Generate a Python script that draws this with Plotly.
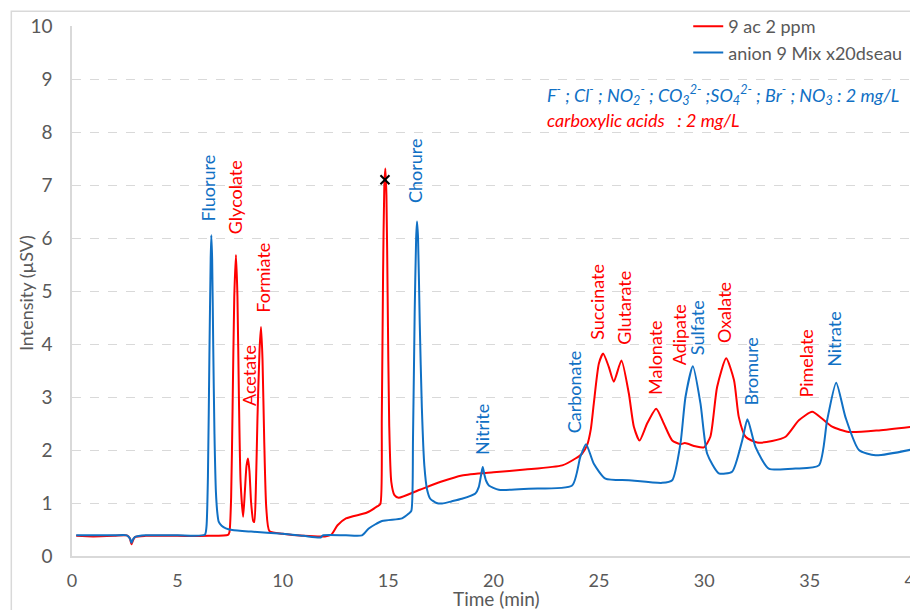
import plotly.graph_objects as go

# chromatogram traces (time in min, intensity in µSV)
red_time = [0.2, 1.0, 2.0, 2.6, 2.75, 2.82, 2.9, 3.0, 3.5, 5.0, 6.5, 7.4, 7.47, 7.55, 7.62, 7.7,
            7.78, 7.85, 7.92, 8.0, 8.12, 8.2, 8.28, 8.35, 8.42, 8.5, 8.6, 8.65, 8.72, 8.8, 8.9,
            8.97, 9.04, 9.12, 9.22, 9.37, 10.0, 11.0, 12.0, 12.3, 12.6, 13.0, 14.0, 14.5, 14.63,
            14.7, 14.76, 14.82, 14.87, 14.92, 14.98, 15.05, 15.15, 15.3, 15.5, 16.5, 17.5, 18.5,
            20.0, 21.5, 23.26, 23.89, 24.2, 24.44, 24.62, 24.76, 25.0, 25.2, 25.47, 25.71, 26.07,
            26.42, 26.66, 26.93, 27.29, 27.72, 28.08, 28.48, 28.87, 29.08, 29.58, 29.98, 30.29,
            30.61, 31.04, 31.41, 31.64, 31.96, 32.51, 33.22, 33.86, 34.49, 35.12, 35.6, 36.07,
            36.86, 38.29, 40.1]
red_signal = [0.38, 0.37, 0.38, 0.39, 0.33, 0.22, 0.30, 0.36, 0.38, 0.38, 0.38, 0.40, 0.45, 1.1,
              2.8, 4.9, 5.68, 4.9, 3.0, 1.4, 0.74, 1.2, 1.7, 1.84, 1.6, 1.0, 0.66, 0.64, 1.2,
              2.6, 3.9, 4.32, 3.7, 2.2, 0.9, 0.47, 0.42, 0.38, 0.37, 0.40, 0.58, 0.71, 0.82,
              0.94, 0.98, 2.6, 5.3, 7.0, 7.31, 6.8, 4.8, 2.5, 1.4, 1.15, 1.10, 1.25, 1.40, 1.52,
              1.58, 1.63, 1.71, 1.84, 1.93, 2.09, 2.4, 2.88, 3.63, 3.82, 3.57, 3.29, 3.69, 3.07,
              2.44, 2.18, 2.50, 2.78, 2.50, 2.18, 2.11, 2.13, 2.07, 2.05, 2.25, 3.19, 3.73, 3.32,
              2.62, 2.25, 2.14, 2.17, 2.25, 2.56, 2.72, 2.59, 2.44, 2.34, 2.37, 2.45]

blue_time = [0.2, 1.0, 2.0, 2.6, 2.75, 2.82, 2.9, 3.0, 3.5, 5.0, 6.3, 6.38, 6.45, 6.52, 6.58,
             6.61, 6.65, 6.7, 6.76, 6.83, 6.9, 6.96, 7.1, 7.3, 7.6, 8.5, 10.0, 11.0, 11.8, 11.9,
             13.0, 13.76, 14.08, 14.71, 15.66, 15.98, 16.1, 16.18, 16.26, 16.33, 16.37, 16.42,
             16.5, 16.6, 16.72, 16.85, 17.0, 17.3, 17.56, 18.0, 18.5, 19.14, 19.3, 19.42, 19.49,
             19.56, 19.65, 19.78, 20.25, 21.67, 23.73, 24.12, 24.39, 24.76, 25.31, 26.42, 28.0,
             28.48, 28.87, 29.11, 29.46, 29.82, 30.14, 30.69, 31.32, 31.8, 32.05, 32.43, 33.06,
             34.33, 35.44, 35.83, 36.26, 36.7, 37.34, 38.13, 40.1]
blue_signal = [0.39, 0.39, 0.39, 0.39, 0.33, 0.25, 0.32, 0.36, 0.39, 0.39, 0.40, 0.55, 1.5,
               3.8, 5.6, 6.05, 5.6, 4.0, 2.3, 1.2, 0.8, 0.65, 0.57, 0.52, 0.49, 0.46, 0.42,
               0.38, 0.35, 0.39, 0.39, 0.39, 0.52, 0.66, 0.71, 0.80, 0.85, 2.2, 4.6, 6.0, 6.31,
               6.0, 4.4, 2.8, 1.7, 1.25, 1.08, 1.00, 0.99, 1.03, 1.08, 1.18, 1.3, 1.55, 1.68,
               1.55, 1.42, 1.33, 1.25, 1.27, 1.33, 1.87, 2.11, 1.74, 1.46, 1.43, 1.38, 1.43, 2.12,
               3.0, 3.58, 2.88, 1.93, 1.56, 1.59, 2.18, 2.58, 2.06, 1.65, 1.65, 1.71, 2.56, 3.27,
               2.62, 2.0, 1.9, 2.03]

# peak labels: name, time, bottom of label, colour
label_names = ['Fluorure', 'Glycolate', 'Acetate', 'Formiate', 'Chorure', 'Nitrite', 'Carbonate',
               'Succinate', 'Glutarate', 'Malonate', 'Adipate', 'Sulfate', 'Oxalate', 'Bromure',
               'Pimelate', 'Nitrate']
label_x = [6.45, 7.75, 8.37, 9.08, 16.25, 19.48, 23.8, 24.93, 26.22, 27.64, 28.78, 29.63, 30.91,
           32.24, 34.85, 36.18]
label_y = [6.28, 6.04, 2.79, 4.56, 6.62, 1.87, 2.28, 4.05, 3.94, 3.00, 3.56, 3.75, 3.98, 2.81,
           2.96, 3.54]
label_series = ['b', 'r', 'r', 'r', 'b', 'b', 'b', 'r', 'r', 'r', 'r', 'b', 'r', 'b', 'r', 'b']

RED = '#ff0000'
BLUE = '#1070c4'
GREY = '#595959'
FONT = 'Lato, Noto Sans, sans-serif'

fig = go.Figure()
fig.add_trace(go.Scatter(x=red_time, y=red_signal, mode='lines', name='9 ac 2 ppm',
                         line=dict(color=RED, width=2, shape='spline', smoothing=0.6)))
fig.add_trace(go.Scatter(x=blue_time, y=blue_signal, mode='lines', name='anion 9 Mix x20dseau',
                         line=dict(color=BLUE, width=2, shape='spline', smoothing=0.6)))
# max marker on the big red peak
fig.add_trace(go.Scatter(x=[14.85], y=[7.1], mode='markers', showlegend=False,
                         marker=dict(symbol='x-thin', size=9, line=dict(color='black', width=2))))

for name, x, y, s in zip(label_names, label_x, label_y, label_series):
    fig.add_annotation(x=x, y=y, text=name, textangle=-90, showarrow=False,
                       xanchor='center', yanchor='bottom',
                       font=dict(size=18, color=RED if s == 'r' else BLUE, family=FONT))

fig.add_annotation(x=22.45, y=8.70, xanchor='left', showarrow=False,
                   text=('<i>F<sup>-</sup> ; Cl<sup>-</sup> ; NO<sub>2</sub><sup>-</sup> ; '
                         'CO<sub>3</sub><sup>2-</sup> ;SO<sub>4</sub><sup>2-</sup> ; '
                         'Br<sup>-</sup> ; NO<sub>3</sub> : 2 mg/L</i>'),
                   font=dict(size=18, color=BLUE, family=FONT))
fig.add_annotation(x=22.45, y=8.22, xanchor='left', showarrow=False,
                   text='<i>carboxylic acids&nbsp;&nbsp; : 2 mg/L</i>',
                   font=dict(size=18, color=RED, family=FONT))

# axis titles placed as annotations so they sit where the original has them
fig.add_annotation(xref='paper', yref='paper', x=-0.0546, y=0.496, text='Intensity (µSV)',
                   textangle=-90, showarrow=False, xanchor='center', yanchor='middle',
                   font=dict(size=18, color=GREY, family=FONT))
fig.add_annotation(xref='paper', yref='paper', x=0.504, y=-0.081, text='Time (min)',
                   showarrow=False, xanchor='center', yanchor='middle',
                   font=dict(size=19, color=GREY, family=FONT))

# outer chart border
fig.add_shape(type='rect', xref='paper', yref='paper', x0=-0.072, x1=1.2, y0=-0.3, y1=1.028,
              line=dict(color='#d9d9d9', width=1.5))

fig.update_layout(
    width=918, height=610,
    margin=dict(l=64, r=11, t=18, b=62, autoexpand=False),
    paper_bgcolor='white', plot_bgcolor='white',
    font=dict(family=FONT, color=GREY, size=17),
    legend=dict(x=0.731, y=1.034, xanchor='left', yanchor='top', bgcolor='rgba(0,0,0,0)',
                font=dict(size=18, color=GREY), tracegroupgap=0),
    showlegend=True,
)
fig.update_xaxes(range=[0, 40], dtick=5, showgrid=False, zeroline=False,
                 showline=True, linecolor='#d9d9d9', linewidth=1.5,
                 ticks='outside', ticklen=8, tickcolor='rgba(0,0,0,0)',
                 tickfont=dict(size=18, color=GREY))
fig.update_yaxes(range=[0, 10], dtick=1, showgrid=True, gridcolor='#d9d9d9', griddash='dash',
                 zeroline=False, showline=True, linecolor='#d9d9d9', linewidth=1.5,
                 ticks='outside', ticklen=14, tickcolor='rgba(0,0,0,0)',
                 tickfont=dict(size=19, color=GREY))

fig.write_html('out.html')
